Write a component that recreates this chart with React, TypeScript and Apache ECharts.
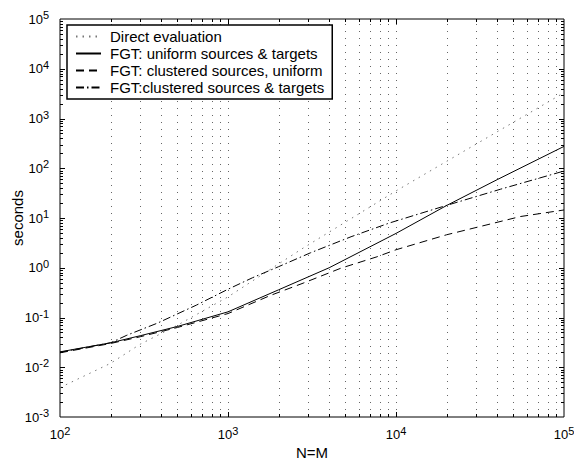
import React, { useEffect, useRef } from 'react';
import * as echarts from 'echarts';

const FONT = '"Liberation Sans", Arial, Helvetica, sans-serif';

const X_MIN = 100;
const X_MAX = 100000;
const Y_MIN = 0.001;
const Y_MAX = 100000;

const seriesNames = [
  'Direct evaluation',
  'FGT: uniform sources & targets',
  'FGT: clustered sources, uniform',
  'FGT:clustered sources & targets',
];

const directN = [100, 200, 300, 500, 1000, 2700, 10000, 100000];
const directT = [0.0039, 0.012, 0.029, 0.07, 0.26, 2.3, 35, 3300];

const uniformN = [100, 200, 300, 500, 1000, 2000, 4000, 10000, 20000, 40000, 100000];
const uniformT = [0.0204, 0.031, 0.043, 0.066, 0.13, 0.36, 1.0, 4.9, 17.8, 59, 275];

const clusteredN = [100, 200, 300, 500, 1000, 1800, 2800, 4700, 7700, 10000, 20000, 32000, 55000, 100000];
const clusteredT = [0.0195, 0.03, 0.041, 0.063, 0.12, 0.28, 0.49, 0.98, 1.66, 2.3, 4.6, 6.8, 10.7, 14.5];

const bothN = [100, 200, 250, 380, 650, 1000, 1400, 2000, 3100, 5400, 9100, 19000, 42000, 79000, 100000];
const bothT = [0.02, 0.031, 0.044, 0.077, 0.178, 0.37, 0.63, 1.05, 2.0, 4.2, 7.9, 17, 38, 70, 88];

// tick positions
const xDecades = [100, 1000, 10000, 100000];
const yDecades = [0.001, 0.01, 0.1, 1, 10, 100, 1000, 10000, 100000];
const minorMult = [2, 3, 4, 5, 6, 7, 8, 9];

const xMinorTicks: number[] = [];
xDecades.slice(0, -1).forEach((d) => minorMult.forEach((m) => xMinorTicks.push(d * m)));
const yMinorTicks: number[] = [];
yDecades.slice(0, -1).forEach((d) => minorMult.forEach((m) => yMinorTicks.push(d * m)));
const xGridLines = [...xMinorTicks, 1000, 10000];

const zip = (a: number[], b: number[]) => a.map((v, i) => [v, b[i]]);

const powLabel = (v: number) => `{b|10}{s|${Math.round(Math.log10(v))}}`;
const richPow = {
  b: { fontSize: 13, fontFamily: FONT, color: '#000', lineHeight: 19, verticalAlign: 'middle' },
  s: { fontSize: 11, fontFamily: FONT, color: '#000', lineHeight: 11, padding: [0, 0, 8, 0], verticalAlign: 'top' },
};

const tickStyle = { stroke: '#000', lineWidth: 1 };

export default function App() {
  const ref = useRef<HTMLDivElement>(null);
  useEffect(() => {
    const chart = echarts.init(ref.current!, null, { renderer: 'svg' });
    const option: any = {
      animation: false,
      backgroundColor: '#fff',
      textStyle: { fontFamily: FONT },
      grid: {
        left: 60,
        right: 10,
        top: 19,
        bottom: 43,
        containLabel: false,
        outerBoundsMode: 'none',
        show: true,
        borderColor: '#000',
        borderWidth: 1,
        backgroundColor: 'transparent',
      },
      legend: {
        orient: 'vertical',
        left: 67,
        top: 25,
        padding: [4, 8, 4, 8],
        itemWidth: 25,
        itemHeight: 15,
        itemGap: 2,
        backgroundColor: '#fff',
        borderColor: '#000',
        borderWidth: 1.5,
        borderRadius: 0,
        data: seriesNames,
        itemStyle: { opacity: 0 },
        textStyle: { fontSize: 15, fontFamily: FONT, color: '#000', lineHeight: 15, padding: [0, 0, 0, 4] },
      },
      xAxis: {
        type: 'log',
        logBase: 10,
        min: X_MIN,
        max: X_MAX,
        name: 'N=M',
        nameLocation: 'middle',
        nameGap: 28,
        nameMoveOverlap: false,
        nameTextStyle: { fontSize: 15, fontFamily: FONT, color: '#000' },
        axisLine: { show: false },
        axisTick: { show: false },
        splitLine: { show: false },
        minorTick: { show: false },
        axisLabel: { formatter: powLabel, rich: richPow, margin: 8, color: '#000' },
      },
      yAxis: {
        type: 'log',
        logBase: 10,
        min: Y_MIN,
        max: Y_MAX,
        name: 'seconds',
        nameLocation: 'middle',
        nameGap: 35,
        nameMoveOverlap: false,
        nameTextStyle: { fontSize: 15, fontFamily: FONT, color: '#000' },
        axisLine: { show: false },
        axisTick: { show: false },
        splitLine: { show: false },
        minorTick: { show: false },
        axisLabel: { formatter: powLabel, rich: richPow, margin: 11, color: '#000' },
      },
      series: [
        {
          type: 'custom',
          name: 'xgrid',
          silent: true,
          z: 1,
          data: xGridLines.map((x) => [x, 1]),
          renderItem: (_p: any, api: any) => {
            const x = api.value(0);
            const b = api.coord([x, Y_MIN]);
            const t = api.coord([x, Y_MAX]);
            const px = Math.round(b[0]) + 0.5;
            return {
              type: 'line',
              shape: { x1: px, y1: b[1], x2: px, y2: t[1] },
              style: { stroke: '#666', lineWidth: 1, lineDash: [1, 6] },
            };
          },
        },
        {
          type: 'custom',
          name: 'xticks',
          silent: true,
          z: 3,
          data: [...xMinorTicks.map((x) => [x, 1, 3]), [1000, 1, 5], [10000, 1, 5]],
          renderItem: (_p: any, api: any) => {
            const x = api.value(0);
            const len = api.value(2);
            const b = api.coord([x, Y_MIN]);
            const t = api.coord([x, Y_MAX]);
            const px = Math.round(b[0]) + 0.5;
            return {
              type: 'group',
              children: [
                { type: 'line', shape: { x1: px, y1: b[1], x2: px, y2: b[1] - len }, style: tickStyle },
                { type: 'line', shape: { x1: px, y1: t[1], x2: px, y2: t[1] + len }, style: tickStyle },
              ],
            };
          },
        },
        {
          type: 'custom',
          name: 'yticks',
          silent: true,
          z: 3,
          data: [
            ...yMinorTicks.map((y) => [1000, y, 3]),
            ...yDecades.slice(1, -1).map((y) => [1000, y, 5]),
          ],
          renderItem: (_p: any, api: any) => {
            const y = api.value(1);
            const len = api.value(2);
            const l = api.coord([X_MIN, y]);
            const r = api.coord([X_MAX, y]);
            const py = Math.round(l[1]) + 0.5;
            return {
              type: 'group',
              children: [
                { type: 'line', shape: { x1: l[0], y1: py, x2: l[0] + len, y2: py }, style: tickStyle },
                { type: 'line', shape: { x1: r[0], y1: py, x2: r[0] - len, y2: py }, style: tickStyle },
              ],
            };
          },
        },
        {
          type: 'line',
          name: seriesNames[0],
          data: zip(directN, directT),
          symbol: 'none',
          z: 5,
          lineStyle: { color: '#777', width: 1, type: [1.5, 5] },
          itemStyle: { color: '#777' },
        },
        {
          type: 'line',
          name: seriesNames[1],
          data: zip(uniformN, uniformT),
          symbol: 'none',
          z: 5,
          lineStyle: { color: '#000', width: 1, type: 'solid' },
          itemStyle: { color: '#000' },
        },
        {
          type: 'line',
          name: seriesNames[2],
          data: zip(clusteredN, clusteredT),
          symbol: 'none',
          z: 5,
          lineStyle: { color: '#000', width: 1, type: [8, 5] },
          itemStyle: { color: '#000' },
        },
        {
          type: 'line',
          name: seriesNames[3],
          data: zip(bothN, bothT),
          symbol: 'none',
          z: 5,
          lineStyle: { color: '#000', width: 1, type: [8, 3, 1.5, 3] },
          itemStyle: { color: '#000' },
        },
      ],
    };
    chart.setOption(option);
    return () => chart.dispose();
  }, []);
  return <div ref={ref} style={{ position: 'absolute', left: 0, top: 0, width: 574, height: 460 }} />;
}
